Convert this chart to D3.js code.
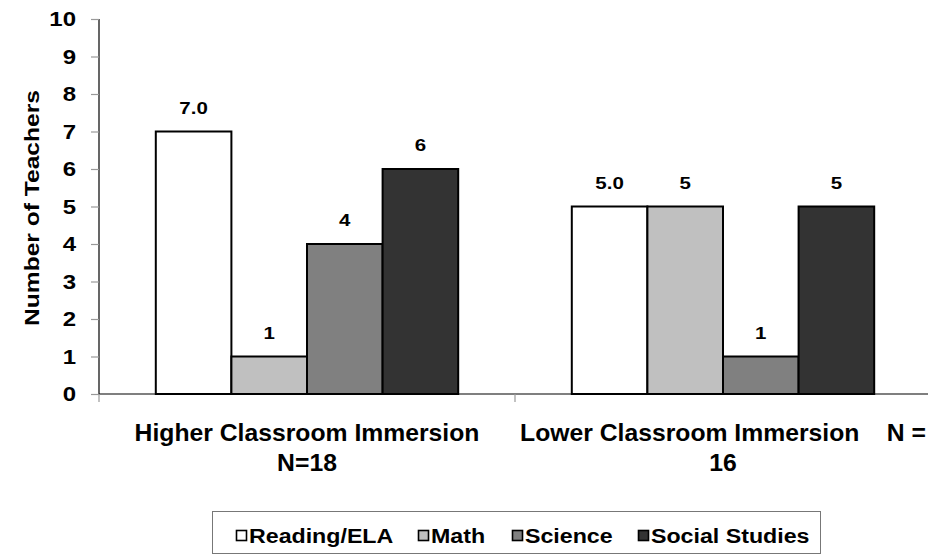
<!DOCTYPE html>
<html><head><meta charset="utf-8">
<script src="https://cdn.jsdelivr.net/npm/d3@7"></script>
<style>body{margin:0;background:#fff}svg{display:block;font-family:"Liberation Sans",Arial,sans-serif;font-weight:bold}</style>
</head><body>
<svg id="c" width="928" height="558"></svg>
<script>
const groups = ["Higher Classroom Immersion|N=18", "Lower Classroom Immersion    N =|16"];
const seriesNames = ["Reading/ELA", "Math", "Science", "Social Studies"];
const readingELA = [7, 5];
const math = [1, 5];
const science = [4, 1];
const socialStudies = [6, 5];
const labelDecimals = [1, 0, 0, 0];
const colors = ["#ffffff", "#c0c0c0", "#808080", "#333333"];
const yTicks = [0,1,2,3,4,5,6,7,8,9,10];

const seriesValues = [readingELA, math, science, socialStudies];
const svg = d3.select("#c");
const x0 = d3.scaleBand().domain(d3.range(groups.length)).range([99, 931]).paddingInner(0).paddingOuter(0);
const y = d3.scaleLinear().domain([0, 10]).range([394, 19]);
const barW = 75.6;
const x1 = d3.scaleBand().domain(d3.range(seriesNames.length)).range([0, barW*4]);

function stext(parent, x, yy, s, size, anchor, str){
  return parent.append("text").attr("transform",`translate(${x},${yy}) scale(${s},1)`)
    .attr("text-anchor",anchor).attr("font-size",size).attr("font-weight","bold").attr("fill","#000")
    .attr("xml:space","preserve").style("white-space","pre").text(str);
}

// y axis
const ya = svg.append("g").attr("transform","translate(99,0)")
  .call(d3.axisLeft(y).tickValues(yTicks).tickSize(8).tickFormat(""));
ya.select(".domain").attr("stroke","#000").attr("stroke-width",1.2).attr("d","M0,19V394");
ya.selectAll(".tick line").attr("stroke","#999").attr("stroke-width",1.2);
yTicks.forEach(t=>{
  stext(svg, 76, y(t)+7.3, 1.17, 20.5, "end", String(t));
});

// x axis
const xa = svg.append("g").attr("transform","translate(0,394)");
xa.append("line").attr("x1",99).attr("x2",931).attr("stroke","#000").attr("stroke-width",1.2);
[0,1,2].forEach(i=>{
  const xx = i<2 ? x0(i) : x0(1)+x0.bandwidth();
  xa.append("line").attr("x1",xx).attr("x2",xx).attr("y1",0).attr("y2",8).attr("stroke","#999").attr("stroke-width",1.2);
});

// bars
groups.forEach((g,gi)=>{
  const gx = x0(gi) + (x0.bandwidth()-barW*4)/2;
  seriesNames.forEach((s,si)=>{
    const v = seriesValues[si][gi];
    svg.append("rect").attr("x",gx+x1(si)).attr("y",y(v)).attr("width",x1.bandwidth()).attr("height",y(0)-y(v))
      .attr("fill",colors[si]).attr("stroke","#000").attr("stroke-width",2);
    stext(svg, gx+x1(si)+x1.bandwidth()/2, y(v)-18, 1.28, 16, "middle", v.toFixed(labelDecimals[si]));
  });
  const lines = g.split("|");
  lines.forEach((l,li)=>{
    stext(svg, x0(gi)+x0.bandwidth()/2, 441+li*29.5, 1.03, 24, "middle", l);
  });
});

// y title
svg.append("text").attr("transform","translate(39.3,208) rotate(-90) scale(1.23,1)").attr("text-anchor","middle")
  .attr("font-size",20).text("Number of Teachers");

// legend
const lg = svg.append("g");
lg.append("rect").attr("x",212.5).attr("y",511.5).attr("width",608).attr("height",42).attr("fill","#fff").attr("stroke","#777").attr("stroke-width",1);
const legX = [236, 418, 512, 638];
seriesNames.forEach((s,si)=>{
  lg.append("rect").attr("x",legX[si]+0.5).attr("y",530.5).attr("width",10).attr("height",10)
    .attr("fill",colors[si]).attr("stroke","#000").attr("stroke-width",1.6);
  stext(lg, legX[si]+13, 543.3, 1.16, 20, "start", s);
});
</script>
</body></html>
